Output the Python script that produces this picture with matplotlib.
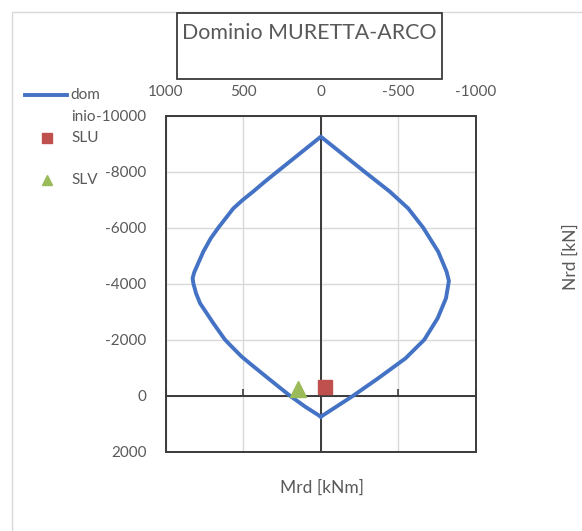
import matplotlib
matplotlib.use("Agg")
import matplotlib.pyplot as plt
from matplotlib.lines import Line2D
from matplotlib.patches import Rectangle

# ---- data ----
dom_M = [0, 101, 200, 300, 380, 446, 511, 565, 619, 694, 780, 806, 823, 828, 818, 797, 759, 711,
         662, 565, 505, 438, 362, 282, 174, 67, 0,
         -67, -174, -282, -446, -564, -661, -758, -812, -827, -808, -754, -668, -547, -370, -209, -50, 0]
dom_N = [750, 393, 0, -443, -800, -1096, -1393, -1693, -2000, -2586, -3300, -3657, -4000, -4200, -4400, -4668, -5143, -5620,
         -6000, -6690, -6989, -7286, -7643, -8000, -8479, -8954, -9250,
         -8954, -8479, -8000, -7286, -6690, -6000, -5143, -4429, -4100, -3479, -2764, -2000, -1336, -621, 0, 571, 750]
slu_M = [-30]
slu_N = [-295]
slv_M = [147]
slv_N = [-250]
x_ticks = [1000, 500, 0, -500, -1000]
y_ticks = [-10000, -8000, -6000, -4000, -2000, 0, 2000]
title = "Dominio MURETTA-ARCO"
legend_labels = ["dom\ninio", "SLU", "SLV"]

plt.rcParams['font.family'] = ['Lato', 'DejaVu Sans']
plt.rcParams['axes.unicode_minus'] = False

W, H = 582, 531
fig = plt.figure(figsize=(W / 100, H / 100), dpi=100)
fig.patch.set_facecolor('white')

def fx(px):
    return px / W

def fy(py):
    return 1 - py / H

txt_col = '#595959'
dark = '#3a3a3a'
blue = '#4472C4'
red = '#C0504D'
green = '#9BBB59'

# outer chart frame
fig.add_artist(Rectangle((fx(11.5), -0.1), 1.2, fy(11.5) + 0.1, transform=fig.transFigure,
                         fill=False, ec='#d9d9d9', lw=1.0))

ax = fig.add_axes([fx(166), fy(451.7), fx(475.7) - fx(166), fy(115.7) - fy(451.7)])
ax.set_xlim(1000, -1000)
ax.set_ylim(2000, -10000)
ax.set_xticks(x_ticks)
ax.set_yticks(y_ticks)
ax.grid(True, color='#d9d9d9', lw=1.0, zorder=0)
ax.set_axisbelow(True)

for s in ['top', 'right', 'left']:
    ax.spines[s].set_visible(False)
ax.spines['bottom'].set_position(('data', 0))
ax.spines['bottom'].set_color(dark)
ax.spines['bottom'].set_linewidth(1.4)
ax.add_patch(Rectangle((0, 0), 1, 1, transform=ax.transAxes, fill=False,
                       ec=dark, lw=1.4, zorder=3, clip_on=False))
ax.axvline(0, color=dark, lw=1.4, zorder=2)

ax.tick_params(axis='x', direction='in', length=5, width=1.2, color=dark,
               bottom=True, top=False, labelbottom=False, labeltop=True,
               pad=12, labelsize=11, labelcolor=txt_col)
ax.tick_params(axis='y', length=0, pad=14, labelsize=11, labelcolor=txt_col)

ax.plot(dom_M, dom_N, color=blue, lw=2.8, zorder=4, solid_joinstyle='round')
ax.plot(slu_M, slu_N, ls='none', marker='s', ms=10.5, color=red, zorder=5)
ax.plot(slv_M, slv_N, ls='none', marker='^', ms=11, color=green, zorder=5)

# axis titles
fig.text(fx(322), fy(488), "Mrd [kNm]", ha='center', va='center', fontsize=12.5, color=txt_col)
fig.text(fx(570.5), fy(257), "Nrd [kN]", ha='center', va='center', rotation=90, fontsize=12.5, color=txt_col)

# chart title box
fig.add_artist(Rectangle((fx(176.7), fy(79)), fx(441.7) - fx(176.7), fy(13.3) - fy(79),
                         transform=fig.transFigure, fill=False, ec=dark, lw=1.3))
fig.text(fx(309.5), fy(33), title, ha='center', va='center', fontsize=15.4, color=txt_col)

# legend
fig.add_artist(Line2D([fx(25), fx(67)], [fy(95), fy(95)], color=blue, lw=2.8,
                      transform=fig.transFigure))
fig.add_artist(Line2D([fx(46.7)], [fy(138.3)], ls='none', marker='s', ms=6.5, color=red,
                      transform=fig.transFigure))
fig.add_artist(Line2D([fx(46.7)], [fy(180)], ls='none', marker='^', ms=7.5, color=green,
                      transform=fig.transFigure))
lab1 = legend_labels[0].split("\n")
fig.text(fx(70.5), fy(95), lab1[0], ha='left', va='center', fontsize=11, color=txt_col)
fig.text(fx(71.5), fy(117), lab1[1], ha='left', va='center', fontsize=11, color=txt_col)
fig.text(fx(71.5), fy(138.3), legend_labels[1], ha='left', va='center', fontsize=11, color=txt_col)
fig.text(fx(71.5), fy(179.5), legend_labels[2], ha='left', va='center', fontsize=11, color=txt_col)

fig.savefig("out.png", dpi=100)
